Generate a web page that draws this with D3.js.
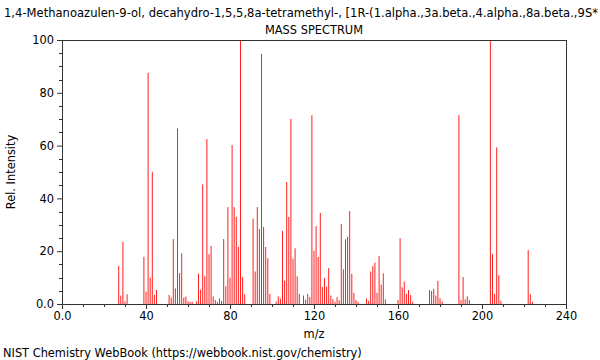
<!DOCTYPE html>
<html>
<head>
<meta charset="utf-8">
<script src="https://cdn.jsdelivr.net/npm/d3@7"></script>
<style>
html,body{margin:0;padding:0;background:#fff;}
svg{display:block;font-family:"DejaVu Sans",sans-serif;}
</style>
</head>
<body>
<svg id="chart" width="600" height="360"></svg>
<script>
const titleText = "1,4-Methanoazulen-9-ol, decahydro-1,5,5,8a-tetramethyl-, [1R-(1.alpha.,3a.beta.,4.alpha.,8a.beta.,9S*";
const subtitleText = "MASS SPECTRUM";
const xLabel = "m/z";
const yLabel = "Rel. Intensity";
const footer = "NIST Chemistry WebBook (https://webbook.nist.gov/chemistry)";

const mz = [27,28,29,30,31,39,40,41,42,43,44,45,51,52,53,54,55,56,57,58,59,60,61,62,64,65,66,67,68,69,70,71,72,73,74,75,76,77,78,79,80,81,82,83,84,85,86,87,91,92,93,94,95,96,97,98,99,102,103,104,105,106,107,108,109,110,111,112,113,115,116,117,118,119,120,121,122,123,124,125,126,127,128,129,130,131,132,133,134,135,136,137,138,139,140,141,145,146,147,148,149,150,151,152,153,154,160,161,162,163,164,165,166,167,175,176,177,178,179,180,181,189,190,191,192,193,194,204,205,206,207,208,209,222,223,224];
const intensity = [14.4,3.2,23.5,1,3.7,17.9,4.7,87.6,10,50.1,3.4,5.3,3.4,2.4,24.6,5.9,66.5,11.7,19.2,2.4,2.8,1,0.8,0.8,1,11.5,5.4,45.3,10.5,62.5,18.9,22,2.9,1.5,0.8,2.1,1.2,24.6,6.7,36.7,10,60.2,36.7,33,21.6,100,10.2,3.7,32.4,12.3,36.7,28.4,94.7,29.2,21.6,17.3,3.8,1,2.9,2.1,27.7,8.8,46.2,33,70.1,17.2,21.1,10.5,3.8,3.2,1.6,3.9,2.6,71.5,20.2,29.5,17.8,34.5,6.4,9.8,6.6,13.6,3.2,1.8,0.8,2.6,1.4,30.3,13.1,24.5,25.4,35.2,11.4,4.2,1.5,0.8,2.1,1.2,12.3,14.4,15.7,4.2,18.2,7.3,11.6,1.7,1.5,24.9,6.3,8.5,3.8,5.3,3.4,0.9,5.3,4.9,5.7,3.2,8.8,2.2,1,71.6,1.5,10.2,1.8,2.9,1.5,100,18.9,3.8,59.3,10.9,1.2,20.4,3.7,0.8];

const xMajor = [0,40,80,120,160,200,240];
const xMajorLabels = ["0.0","40","80","120","160","200","240"];
const yMajor = [0,20,40,60,80,100];
const yMajorLabels = ["0.0","20","40","60","80","100"];

const svg = d3.select("#chart");
const L = 62, R = 566, T = 40, B = 304;
const x = d3.scaleLinear().domain([0,240]).range([L,R]);
const y = d3.scaleLinear().domain([0,100]).range([B,T]);
const axisColor = "#333";
const fs = 11.4;

// bars
svg.append("g").selectAll("line").data(mz).join("line")
  .attr("x1", d => x(d)).attr("x2", d => x(d))
  .attr("y1", y(0)).attr("y2", (d,i) => y(intensity[i]))
  .attr("stroke", "#ff2020").attr("stroke-width", 1);

// frame top & right
svg.append("line").attr("x1",L).attr("x2",R).attr("y1",T+0.5).attr("y2",T+0.5).attr("stroke",axisColor);
svg.append("line").attr("x1",R+0.5).attr("x2",R+0.5).attr("y1",T).attr("y2",B).attr("stroke",axisColor);

// x axis
const xAxis = d3.axisBottom(x).tickValues(xMajor).tickFormat((d,i)=>xMajorLabels[i]).tickSize(5).tickPadding(3);
const gx = svg.append("g").attr("transform",`translate(0,${B})`).call(xAxis);
gx.select(".domain").attr("stroke",axisColor).attr("d",`M${L},0.5H${R+1}`);
gx.selectAll(".tick line").attr("stroke",axisColor);
gx.selectAll("text").attr("font-size",fs).attr("fill","#000").attr("font-family","DejaVu Sans");
const xMinor = d3.range(0,241,10).filter(v => v % 40 !== 0);
svg.append("g").selectAll("line").data(xMinor).join("line")
  .attr("x1", d=>Math.round(x(d))+0.5).attr("x2", d=>Math.round(x(d))+0.5)
  .attr("y1", B).attr("y2", B+3).attr("stroke", axisColor);

// y axis
const yAxis = d3.axisLeft(y).tickValues(yMajor).tickFormat((d,i)=>yMajorLabels[i]).tickSize(5).tickPadding(3);
const gy = svg.append("g").attr("transform",`translate(${L},0)`).call(yAxis);
gy.select(".domain").attr("stroke",axisColor).attr("d",`M0.5,${T}V${B}`);
gy.selectAll(".tick line").attr("stroke",axisColor);
gy.selectAll("text").attr("font-size",fs).attr("fill","#000").attr("font-family","DejaVu Sans");
const yMinor = d3.range(0,101,5).filter(v => v % 20 !== 0);
svg.append("g").selectAll("line").data(yMinor).join("line")
  .attr("x1", L-3).attr("x2", L)
  .attr("y1", d=>Math.round(y(d))+0.5).attr("y2", d=>Math.round(y(d))+0.5).attr("stroke", axisColor);

// texts
svg.append("text").attr("x",4).attr("y",17).attr("font-size",fs)
  .attr("textLength",594).attr("lengthAdjust","spacingAndGlyphs").text(titleText);
svg.append("text").attr("x",(L+R)/2).attr("y",34).attr("text-anchor","middle").attr("font-size",fs).text(subtitleText);
svg.append("text").attr("x",(L+R)/2).attr("y",338).attr("text-anchor","middle").attr("font-size",fs).text(xLabel);
svg.append("text").attr("transform",`translate(15,${(T+B)/2}) rotate(-90)`).attr("text-anchor","middle").attr("font-size",fs).text(yLabel);
svg.append("text").attr("x",3).attr("y",357).attr("font-size",fs).text(footer);
</script>
</body>
</html>
